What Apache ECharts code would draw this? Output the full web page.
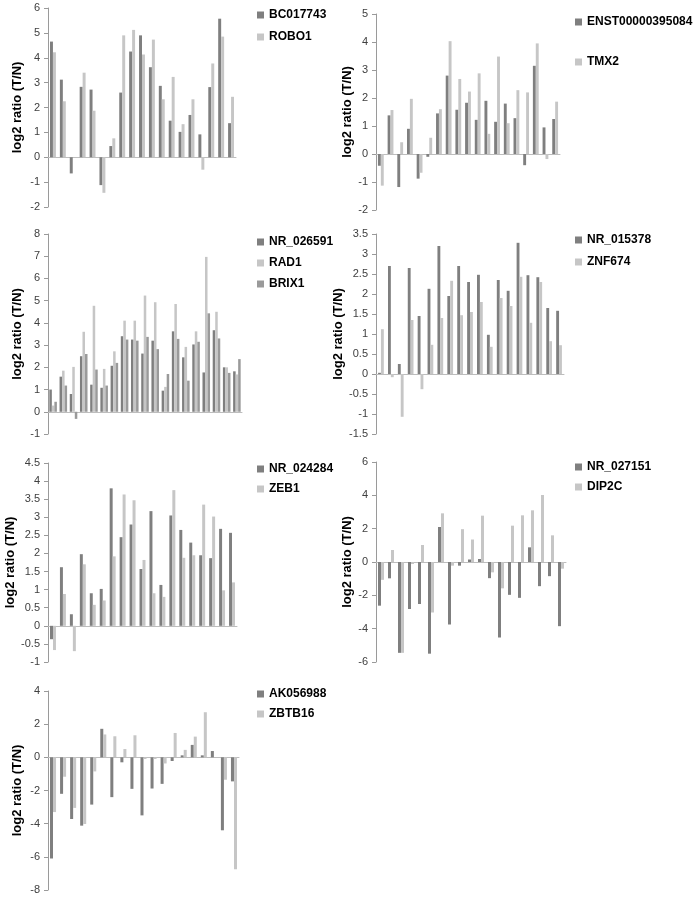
<!DOCTYPE html>
<html>
<head>
<meta charset="utf-8">
<script src="https://cdn.jsdelivr.net/npm/echarts@6/dist/echarts.min.js"></script>
<style>html,body{margin:0;padding:0;background:#fff}#c{width:696px;height:898px}</style>
</head>
<body>
<div id="c"></div>
<script>
// ---- data ----
const categories = ['1','2','3','4','5','6','7','8','9','10','11','12','13','14','15','16','17','18','19'];
const yTitle = 'log2 ratio (T/N)';

const BC017743 = [4.65,3.12,-0.65,2.83,2.72,-1.12,0.45,2.6,4.25,4.9,3.62,2.87,1.47,1.02,1.7,0.92,2.82,5.57,1.37];
const ROBO1    = [4.22,2.25,0,3.4,1.87,-1.43,0.76,4.9,5.12,4.13,4.73,2.33,3.23,1.33,2.33,-0.5,3.77,4.85,2.43];

const ENST00000395084 = [-0.42,1.38,-1.18,0.9,-0.88,-0.1,1.45,2.8,1.58,1.83,1.22,1.9,1.15,1.8,1.28,-0.4,3.15,0.95,1.25];
const TMX2            = [-1.13,1.57,0.42,1.97,-0.67,0.58,1.6,4.03,2.68,2.23,2.88,0.72,3.48,1.1,2.28,2.2,3.95,-0.18,1.87];

const NR_026591 = [1.0,1.58,0.8,2.5,1.22,1.08,2.07,3.4,3.25,2.62,3.2,0.95,3.62,2.45,3.03,1.77,3.67,2.0,1.82];
const RAD1      = [0.28,1.85,2.02,3.6,4.77,1.93,2.72,4.1,4.1,5.23,4.93,1.12,4.85,2.92,3.62,6.97,4.5,2.0,1.68];
const BRIX1     = [0.45,1.18,-0.32,2.6,1.9,1.18,2.2,3.25,3.2,3.37,2.82,1.7,3.28,1.4,3.15,4.43,3.3,1.75,2.37];

const NR_015378 = [0.03,2.7,0.25,2.65,1.45,2.13,3.2,1.95,2.7,2.3,2.48,0.98,2.35,2.08,3.28,2.47,2.42,1.65,1.58];
const ZNF674    = [1.12,-0.08,-1.07,1.35,-0.38,0.73,1.4,2.33,1.47,1.55,1.8,0.68,1.9,1.7,2.43,1.28,2.3,0.82,0.72];

const NR_024284 = [-0.37,1.62,0.32,1.98,0.9,1.02,3.8,2.45,2.8,1.57,3.17,1.13,3.05,2.65,2.3,1.95,1.87,2.68,2.57];
const ZEB1      = [-0.67,0.88,-0.7,1.7,0.58,0.7,1.92,3.63,3.47,1.82,0.9,0.8,3.75,1.88,1.95,3.35,3.02,0.98,1.2];

const NR_027151 = [-2.62,-0.98,-5.45,-2.82,-2.52,-5.5,2.1,-3.75,-0.22,0.15,0.18,-0.97,-4.53,-1.97,-2.15,0.88,-1.45,-0.85,-3.85];
const DIP2C     = [-1.07,0.72,-5.45,-0.12,1.02,-3.03,2.92,-0.22,1.97,1.35,2.78,-0.62,-1.58,2.18,2.8,3.1,4.02,1.6,-0.4];

const AK056988 = [-6.1,-2.2,-3.72,-4.12,-2.85,1.72,-2.4,-0.3,-1.9,-3.5,-1.88,-1.6,-0.22,0.12,0.75,0.12,0.38,-4.4,-1.45];
const ZBTB16   = [-3.3,-1.17,-3.05,-4.02,-0.85,1.38,1.27,0.5,1.33,-0.1,-0.1,-0.37,1.47,0.45,1.25,2.72,0,-1.35,-6.75];

// ---- panels ----
const DARK = '#7f7f7f', LIGHT = '#c6c6c6', MID = '#9a9a9a';
const panels = [
  {series:[['BC017743',BC017743,DARK],['ROBO1',ROBO1,LIGHT]], min:-2,max:6,interval:1,
   grid:{left:48,top:8,width:188,height:199}, gap:'40%', nameGap:24, legend:{left:257,top:8,itemGap:8}},
  {series:[['ENST00000395084',ENST00000395084,DARK],['TMX2',TMX2,LIGHT]], min:-2,max:5,interval:1,
   grid:{left:376,top:14,width:184,height:196}, gap:'40%', nameGap:16, legend:{left:575,top:15,itemGap:26}},
  {series:[['NR_026591',NR_026591,DARK],['RAD1',RAD1,LIGHT],['BRIX1',BRIX1,MID]], min:-1,max:8,interval:1,
   grid:{left:48,top:234,width:194,height:200}, gap:'26%', nameGap:24, legend:{left:257,top:235,itemGap:7}},
  {series:[['NR_015378',NR_015378,DARK],['ZNF674',ZNF674,LIGHT]], min:-1.5,max:3.5,interval:0.5,
   grid:{left:376,top:234,width:188,height:200}, gap:'42%', nameGap:19, legend:{left:575,top:233,itemGap:8}},
  {series:[['NR_024284',NR_024284,DARK],['ZEB1',ZEB1,LIGHT]], min:-1,max:4.5,interval:0.5,
   grid:{left:48,top:463,width:189,height:199}, gap:'40%', nameGap:24, legend:{left:257,top:462,itemGap:6}},
  {series:[['NR_027151',NR_027151,DARK],['DIP2C',DIP2C,LIGHT]], min:-6,max:6,interval:2,
   grid:{left:376,top:462,width:190,height:200}, gap:'40%', nameGap:16, legend:{left:575,top:460,itemGap:6}},
  {series:[['AK056988',AK056988,DARK],['ZBTB16',ZBTB16,LIGHT]], min:-8,max:4,interval:2,
   grid:{left:48,top:691,width:191,height:199}, gap:'40%', nameGap:24, legend:{left:257,top:687,itemGap:6}}
];

const FONT = "'Liberation Sans', Arial, sans-serif";
const option = {animation:false, backgroundColor:'#fff', grid:[], xAxis:[], yAxis:[], legend:[], series:[]};
panels.forEach((p,i)=>{
  option.grid.push(Object.assign({containLabel:false}, p.grid));
  option.xAxis.push({type:'category', gridIndex:i, data:categories,
    axisLine:{onZero:true, lineStyle:{color:'#bdbdbd', width:1}},
    axisTick:{show:false}, axisLabel:{show:false}, splitLine:{show:false}});
  option.yAxis.push({type:'value', gridIndex:i, min:p.min, max:p.max, interval:p.interval,
    name:yTitle, nameLocation:'middle', nameGap:p.nameGap,
    nameTextStyle:{fontFamily:FONT, fontWeight:'bold', fontSize:13, color:'#000'},
    axisLine:{show:true, lineStyle:{color:'#9a9a9a', width:1}},
    axisTick:{show:true, length:4, inside:false, lineStyle:{color:'#9a9a9a'}},
    axisLabel:{fontFamily:FONT, fontSize:11, color:'#404040', margin:8,
      formatter:v=>String(Math.round(v*10)/10)},
    splitLine:{show:false}});
  option.legend.push({orient:'vertical', left:p.legend.left, top:p.legend.top, itemGap:p.legend.itemGap,
    padding:0, itemWidth:7, itemHeight:7, icon:'rect', data:p.series.map(s=>s[0]),
    textStyle:{fontFamily:FONT, fontWeight:'bold', fontSize:12, color:'#000', lineHeight:14},
    selectedMode:false});
  p.series.forEach(s=>{
    option.series.push({type:'bar', name:s[0], xAxisIndex:i, yAxisIndex:i, data:s[1],
      itemStyle:{color:s[2]}, barGap:'0%', barCategoryGap:p.gap, silent:true});
  });
});
const chart = echarts.init(document.getElementById('c'), null, {renderer:'canvas'});
chart.setOption(option);
</script>
</body>
</html>
